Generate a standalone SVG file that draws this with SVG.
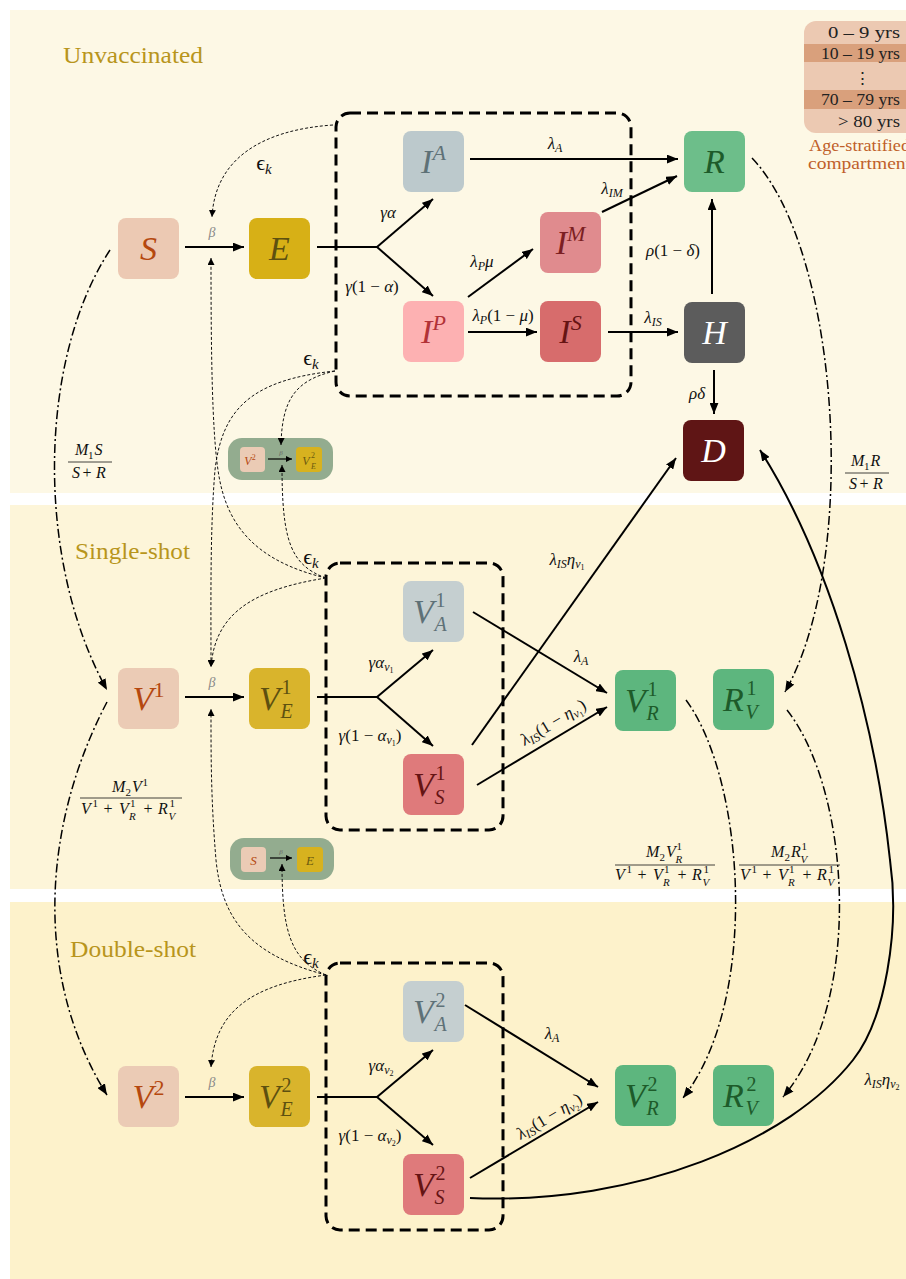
<svg xmlns="http://www.w3.org/2000/svg" width="906" height="1279" viewBox="0 0 906 1279">
<defs>
<style>
.n{rx:8px;ry:8px}
.nl{font-family:"Liberation Serif",serif;font-style:italic;font-size:34px;text-anchor:middle}
.sp{font-size:22px}
.up{font-style:normal}
.ss{font-family:"Liberation Serif",serif;font-size:20px}
.el{font-family:"Liberation Serif",serif;font-style:italic;font-size:17px;fill:#111;text-anchor:middle}
.sb{font-size:12px}
.bt{font-family:"Liberation Serif",serif;font-style:italic;font-size:14px;fill:#8a8a8a;text-anchor:middle}
.eps{font-family:"Liberation Serif","DejaVu Serif",serif;font-size:22px;fill:#111;text-anchor:middle}
.fm{font-family:"Liberation Serif",serif;font-style:italic;font-size:16px;fill:#111}
.fs{font-family:"Liberation Serif",serif;font-style:italic;font-size:11px;fill:#111}
.fu{font-family:"Liberation Serif",serif;font-size:11px;fill:#111}
.fp{font-family:"Liberation Serif",serif;font-size:16px;fill:#111;text-anchor:middle}
.fl{stroke:#111;stroke-width:0.8}
.sec{font-family:"Liberation Serif",serif;font-size:23px;fill:#b8951c}
.lg{font-family:"Liberation Serif",serif;font-size:17px;fill:#222;text-anchor:end}
.cap{font-family:"Liberation Serif",serif;font-size:16px;fill:#c0602a}
.sol{fill:none;stroke:#000;stroke-width:2}
.sa{fill:none;stroke:#000;stroke-width:2;marker-end:url(#ah)}
.da{fill:none;stroke:#000;stroke-width:1.5;stroke-dasharray:9,3,2,3;marker-end:url(#ah)}
.ea{fill:none;stroke:#111;stroke-width:1;stroke-dasharray:3,2;marker-end:url(#as)}
.box{fill:none;stroke:#000;stroke-width:3;stroke-dasharray:11,6}
</style>
<marker id="ah" viewBox="0 0 10 8" refX="10" refY="4" markerWidth="11" markerHeight="9" markerUnits="userSpaceOnUse" orient="auto"><path d="M0,0 L10,4 L0,8 z" fill="#000"/></marker>
<marker id="as" viewBox="0 0 6 6" refX="6" refY="3" markerWidth="7" markerHeight="7" markerUnits="userSpaceOnUse" orient="auto"><path d="M0,0 L6,3 L0,6 z" fill="#000"/></marker>
<marker id="am" viewBox="0 0 6 6" refX="6" refY="3" markerWidth="6" markerHeight="6" markerUnits="userSpaceOnUse" orient="auto"><path d="M0,0 L6,3 L0,6 z" fill="#000"/></marker>
<clipPath id="lc"><rect x="804" y="21" width="130" height="112" rx="12"/></clipPath>
</defs>

<rect x="0" y="0" width="906" height="1279" fill="#fff"/>
<rect x="10" y="10" width="896" height="483" fill="#fdf8e5"/>
<rect x="10" y="505" width="896" height="384" fill="#fdf5d9"/>
<rect x="10" y="902" width="896" height="377" fill="#fdf2cb"/>

<text class="sec" x="63" y="63" textLength="140" lengthAdjust="spacingAndGlyphs">Unvaccinated</text>
<text class="sec" x="75" y="559" textLength="115" lengthAdjust="spacingAndGlyphs">Single-shot</text>
<text class="sec" x="70" y="957" textLength="126" lengthAdjust="spacingAndGlyphs">Double-shot</text>

<g id="legend">
<g clip-path="url(#lc)">
<rect x="804" y="21" width="130" height="112" fill="#ecc9b2"/>
<rect x="804" y="44" width="130" height="18" fill="#d9a07c"/>
<rect x="804" y="90" width="130" height="19" fill="#d9a07c"/>
</g>
<text class="lg" x="900" y="38" textLength="72" lengthAdjust="spacingAndGlyphs">0 –  9 yrs</text>
<text class="lg" x="900" y="59" textLength="79" lengthAdjust="spacingAndGlyphs">10 – 19 yrs</text>
<text class="lg" x="862" y="84" style="text-anchor:middle">⋮</text>
<text class="lg" x="900" y="105" textLength="79" lengthAdjust="spacingAndGlyphs">70 – 79 yrs</text>
<text class="lg" x="900" y="127" textLength="62" lengthAdjust="spacingAndGlyphs">&gt; 80 yrs</text>
<text class="cap" x="809" y="151" textLength="101" lengthAdjust="spacingAndGlyphs">Age-stratified</text>
<text class="cap" x="808" y="169" textLength="103" lengthAdjust="spacingAndGlyphs">compartment</text>
</g>

<!-- dashed groupings -->
<rect class="box" x="336" y="113" width="295" height="283" rx="14"/>
<rect class="box" x="326" y="563" width="177" height="267" rx="14"/>
<rect class="box" x="326" y="963" width="177" height="267" rx="14"/>

<!-- mini diagrams -->
<g id="mini1">
<rect x="228" y="438" width="105" height="42" rx="14" fill="#93ac8f"/>
<rect x="240" y="447" width="25" height="25" rx="4" fill="#ebcbb5"/>
<text x="250" y="465" font-family="Liberation Serif, serif" font-style="italic" font-size="12" fill="#b5480f" text-anchor="middle">V<tspan font-size="8" font-style="normal" dy="-5">2</tspan></text>
<rect x="296" y="447" width="26" height="25" rx="4" fill="#d7b21f"/>
<text x="306" y="465" font-family="Liberation Serif, serif" font-style="italic" font-size="12" fill="#6b5a10" text-anchor="middle">V</text>
<text x="311" y="458" font-family="Liberation Serif, serif" font-size="8" fill="#6b5a10">2</text>
<text x="311" y="469" font-family="Liberation Serif, serif" font-style="italic" font-size="8" fill="#6b5a10">E</text>
<path d="M268,459 H292" fill="none" stroke="#000" stroke-width="1.2" marker-end="url(#am)"/>
<text x="281" y="455" font-family="Liberation Serif, serif" font-style="italic" font-size="7" fill="#666" text-anchor="middle">β</text>
</g>
<g id="mini2">
<rect x="230" y="838" width="104" height="42" rx="14" fill="#93ac8f"/>
<rect x="241" y="847" width="25" height="25" rx="4" fill="#ebcbb5"/>
<text x="253.5" y="865" font-family="Liberation Serif, serif" font-style="italic" font-size="13" fill="#b5480f" text-anchor="middle">S</text>
<rect x="297" y="847" width="26" height="25" rx="4" fill="#d7b21f"/>
<text x="310" y="865" font-family="Liberation Serif, serif" font-style="italic" font-size="13" fill="#6b5a10" text-anchor="middle">E</text>
<path d="M270,858 H292" fill="none" stroke="#000" stroke-width="1.2" marker-end="url(#am)"/>
<text x="281" y="854" font-family="Liberation Serif, serif" font-style="italic" font-size="7" fill="#666" text-anchor="middle">β</text>
</g>

<!-- nodes: unvaccinated -->
<g id="S"><rect class="n" x="118" y="218" width="61" height="61" fill="#ecc9b3"/><text class="nl" x="148.5" y="260" fill="#b5480f">S</text></g>
<g id="E"><rect class="n" x="249" y="218" width="61" height="61" fill="#d7b016"/><text class="nl" x="279.5" y="260" fill="#5d5010">E</text></g>
<g id="IA"><rect class="n" x="403" y="131" width="61" height="61" fill="#bcc9cc"/><text class="nl" x="433.5" y="173" fill="#5e7177">I<tspan class="sp" dy="-13">A</tspan></text></g>
<g id="IM"><rect class="n" x="540" y="212" width="61" height="61" fill="#e08b8e"/><text class="nl" x="570.5" y="254" fill="#7c1f22">I<tspan class="sp" dy="-13">M</tspan></text></g>
<g id="IP"><rect class="n" x="403" y="301" width="61" height="61" fill="#fdb1b2"/><text class="nl" x="433.5" y="343" fill="#b23237">I<tspan class="sp" dy="-13">P</tspan></text></g>
<g id="IS"><rect class="n" x="540" y="301" width="61" height="61" fill="#d76c6c"/><text class="nl" x="570.5" y="343" fill="#661414">I<tspan class="sp" dy="-13">S</tspan></text></g>
<g id="R"><rect class="n" x="684" y="131" width="61" height="61" fill="#6dbe8a"/><text class="nl" x="714.5" y="173" fill="#1d5b2a">R</text></g>
<g id="H"><rect class="n" x="684" y="302" width="61" height="61" fill="#5c5c5c"/><text class="nl" x="714.5" y="344" fill="#fff">H</text></g>
<g id="D"><rect class="n" x="683" y="420" width="61" height="61" fill="#5f1515"/><text class="nl" x="713.5" y="462" fill="#fff">D</text></g>

<!-- nodes: single-shot -->
<g id="V1"><rect class="n" x="118" y="668" width="61" height="61" fill="#ebcbb5"/><text class="nl" x="148.5" y="710" fill="#b5480f">V<tspan class="sp up" dy="-13">1</tspan></text></g>
<g id="V1E"><rect class="n" x="249" y="668" width="61" height="61" fill="#d9b42c"/><text class="nl" x="269.5" y="709.5" fill="#5d5010">V</text><text class="ss" x="281.5" y="693.5" fill="#5d5010">1</text><text class="ss" x="280.5" y="717.5" font-style="italic" fill="#5d5010">E</text></g>
<g id="V1A"><rect class="n" x="403" y="581" width="61" height="61" fill="#c5cfd0"/><text class="nl" x="423.5" y="622.5" fill="#5e7177">V</text><text class="ss" x="435.5" y="606.5" fill="#5e7177">1</text><text class="ss" x="434.5" y="630.5" font-style="italic" fill="#5e7177">A</text></g>
<g id="V1S"><rect class="n" x="403" y="754" width="61" height="61" fill="#df7a7b"/><text class="nl" x="423.5" y="795.5" fill="#661414">V</text><text class="ss" x="435.5" y="779.5" fill="#661414">1</text><text class="ss" x="434.5" y="803.5" font-style="italic" fill="#661414">S</text></g>
<g id="V1R"><rect class="n" x="615" y="670" width="61" height="61" fill="#5db67e"/><text class="nl" x="635.5" y="711.5" fill="#1d5b2a">V</text><text class="ss" x="647.5" y="695.5" fill="#1d5b2a">1</text><text class="ss" x="646.5" y="719.5" font-style="italic" fill="#1d5b2a">R</text></g>
<g id="R1V"><rect class="n" x="713" y="669" width="61" height="61" fill="#5db67e"/><text class="nl" x="733.5" y="710.5" fill="#1d5b2a">R</text><text class="ss" x="746.5" y="694.5" fill="#1d5b2a">1</text><text class="ss" x="745.5" y="718.5" font-style="italic" fill="#1d5b2a">V</text></g>

<!-- nodes: double-shot -->
<g id="V2"><rect class="n" x="118" y="1066" width="61" height="61" fill="#ebcbb5"/><text class="nl" x="148.5" y="1108" fill="#b5480f">V<tspan class="sp up" dy="-13">2</tspan></text></g>
<g id="V2E"><rect class="n" x="249" y="1066" width="61" height="61" fill="#d9b42c"/><text class="nl" x="269.5" y="1107.5" fill="#5d5010">V</text><text class="ss" x="281.5" y="1091.5" fill="#5d5010">2</text><text class="ss" x="280.5" y="1115.5" font-style="italic" fill="#5d5010">E</text></g>
<g id="V2A"><rect class="n" x="403" y="981" width="61" height="61" fill="#c5cfd0"/><text class="nl" x="423.5" y="1022.5" fill="#5e7177">V</text><text class="ss" x="435.5" y="1006.5" fill="#5e7177">2</text><text class="ss" x="434.5" y="1030.5" font-style="italic" fill="#5e7177">A</text></g>
<g id="V2S"><rect class="n" x="403" y="1154" width="61" height="61" fill="#df7a7b"/><text class="nl" x="423.5" y="1195.5" fill="#661414">V</text><text class="ss" x="435.5" y="1179.5" fill="#661414">2</text><text class="ss" x="434.5" y="1203.5" font-style="italic" fill="#661414">S</text></g>
<g id="V2R"><rect class="n" x="615" y="1065" width="61" height="61" fill="#5db67e"/><text class="nl" x="635.5" y="1106.5" fill="#1d5b2a">V</text><text class="ss" x="647.5" y="1090.5" fill="#1d5b2a">2</text><text class="ss" x="646.5" y="1114.5" font-style="italic" fill="#1d5b2a">R</text></g>
<g id="R2V"><rect class="n" x="713" y="1065" width="61" height="61" fill="#5db67e"/><text class="nl" x="733.5" y="1106.5" fill="#1d5b2a">R</text><text class="ss" x="746.5" y="1090.5" fill="#1d5b2a">2</text><text class="ss" x="745.5" y="1114.5" font-style="italic" fill="#1d5b2a">V</text></g>

<g id="connectors">
<!-- unvaccinated solid -->
<path class="sa" d="M185,247 H244"/>
<path class="sol" d="M317,247 H377"/>
<path class="sa" d="M377,247 L433,199"/>
<path class="sa" d="M377,247 L433,296"/>
<path class="sa" d="M470,159 H678"/>
<path class="sa" d="M602,212 L677,176"/>
<path class="sa" d="M468,297 L533,249"/>
<path class="sa" d="M468,332 H537"/>
<path class="sa" d="M608,332 H678"/>
<path class="sa" d="M712,294 V199"/>
<path class="sa" d="M714,370 V414"/>
<!-- single solid -->
<path class="sa" d="M185,697 H244"/>
<path class="sol" d="M317,697 H377"/>
<path class="sa" d="M377,697 L433,650"/>
<path class="sa" d="M377,697 L433,746"/>
<path class="sa" d="M473,612 L607,693"/>
<path class="sa" d="M477,785 L607,707"/>
<path class="sa" d="M472,745 L676,458"/>
<!-- double solid -->
<path class="sa" d="M185,1097 H244"/>
<path class="sol" d="M317,1097 H377"/>
<path class="sa" d="M377,1097 L433,1050"/>
<path class="sa" d="M377,1097 L433,1145"/>
<path class="sa" d="M465,1005 L598,1087"/>
<path class="sa" d="M470,1178 L598,1102"/>
<path class="sa" d="M470,1198 C640,1205 790,1140 853,1060 C885,1020 900,930 890,860 C875,720 830,560 760,450"/>
<!-- dash-dot flows -->
<path class="da" d="M110,250 C38,360 35,560 107,690"/>
<path class="da" d="M107,702 C40,830 35,980 107,1095"/>
<path class="da" d="M752,158 C840,250 860,560 785,692"/>
<path class="da" d="M686,700 C745,780 760,1000 683,1098"/>
<path class="da" d="M787,710 C850,790 865,1000 783,1097"/>
<!-- epsilon infection flows -->
<path class="ea" d="M333,125 C260,130 215,160 212,217"/>
<path class="ea" d="M335,371 C295,380 282,400 281,445"/>
<path class="ea" d="M335,371 C250,380 222,410 215,470 C210,530 211,600 211,667"/>
<path class="ea" d="M326,578 C250,560 225,520 218,470 C212,430 211,350 211,258"/>
<path class="ea" d="M326,578 C290,565 282,540 282,465"/>
<path class="ea" d="M326,578 C250,590 215,615 211,667"/>
<path class="ea" d="M326,975 C290,960 282,930 282,864"/>
<path class="ea" d="M326,975 C250,985 215,1012 211,1067"/>
<path class="ea" d="M326,975 C250,955 222,920 216,860 C211,800 211,760 211,709"/>
</g>

<g id="labels">
<text class="bt" x="212" y="237">β</text>
<text class="bt" x="212" y="687">β</text>
<text class="bt" x="212" y="1087">β</text>
<text class="eps" x="264" y="170">ϵ<tspan font-style="italic" font-size="15" dy="4">k</tspan></text>
<text class="eps" x="311" y="365">ϵ<tspan font-style="italic" font-size="15" dy="4">k</tspan></text>
<text class="eps" x="311" y="564">ϵ<tspan font-style="italic" font-size="15" dy="4">k</tspan></text>
<text class="eps" x="311" y="964">ϵ<tspan font-style="italic" font-size="15" dy="4">k</tspan></text>

<text class="el" x="388" y="218">γα</text>
<text class="el" x="372" y="292">γ<tspan class="up">(1 − </tspan>α<tspan class="up">)</tspan></text>
<text class="el" x="555" y="149">λ<tspan class="sb" dy="3">A</tspan></text>
<text class="el" x="612" y="194">λ<tspan class="sb" dy="3">IM</tspan></text>
<text class="el" x="482" y="267">λ<tspan class="sb" dy="3">P</tspan><tspan dy="-3">μ</tspan></text>
<text class="el" x="503" y="321">λ<tspan class="sb" dy="3">P</tspan><tspan class="up" dy="-3">(1 − </tspan>μ<tspan class="up">)</tspan></text>
<text class="el" x="653" y="323">λ<tspan class="sb" dy="3">IS</tspan></text>
<text class="el" x="673" y="256">ρ<tspan class="up">(1 − </tspan>δ<tspan class="up">)</tspan></text>
<text class="el" x="697" y="399">ρδ</text>

<text class="el" x="381" y="668">γα<tspan class="sb" dy="3">v</tspan><tspan font-size="8" class="up" dy="2">1</tspan></text>
<text class="el" x="370" y="741">γ<tspan class="up">(1 − </tspan>α<tspan class="sb" dy="3">v</tspan><tspan font-size="8" class="up" dy="2">1</tspan><tspan class="up" dy="-5">)</tspan></text>
<text class="el" x="581" y="662">λ<tspan class="sb" dy="3">A</tspan></text>
<text class="el" x="567" y="565">λ<tspan class="sb" dy="3">IS</tspan><tspan dy="-3">η</tspan><tspan class="sb" dy="3">v</tspan><tspan font-size="8" class="up" dy="2">1</tspan></text>
<text class="el" transform="translate(556,727) rotate(-31)">λ<tspan class="sb" dy="3">IS</tspan><tspan class="up" dy="-3">(1 − </tspan>η<tspan class="sb" dy="3">v</tspan><tspan font-size="8" class="up" dy="2">1</tspan><tspan class="up" dy="-5">)</tspan></text>

<text class="el" x="381" y="1071">γα<tspan class="sb" dy="3">v</tspan><tspan font-size="8" class="up" dy="2">2</tspan></text>
<text class="el" x="370" y="1141">γ<tspan class="up">(1 − </tspan>α<tspan class="sb" dy="3">v</tspan><tspan font-size="8" class="up" dy="2">2</tspan><tspan class="up" dy="-5">)</tspan></text>
<text class="el" x="552" y="1039">λ<tspan class="sb" dy="3">A</tspan></text>
<text class="el" transform="translate(552,1121) rotate(-31)">λ<tspan class="sb" dy="3">IS</tspan><tspan class="up" dy="-3">(1 − </tspan>η<tspan class="sb" dy="3">v</tspan><tspan font-size="8" class="up" dy="2">2</tspan><tspan class="up" dy="-5">)</tspan></text>
<text class="el" x="882" y="1085">λ<tspan class="sb" dy="3">IS</tspan><tspan dy="-3">η</tspan><tspan class="sb" dy="3">v</tspan><tspan font-size="8" class="up" dy="2">2</tspan></text>
</g>

<g id="fractions">
<!-- M1 S / (S + R) -->
<text class="fm" x="75" y="455">M</text><text class="fu" x="88" y="459">1</text><text class="fm" x="94.5" y="455">S</text>
<line class="fl" x1="68" y1="462" x2="112" y2="462"/>
<text class="fm" x="72" y="478">S</text><text class="fp" x="87" y="478">+</text><text class="fm" x="96" y="478">R</text>

<!-- M1 R / (S + R) -->
<text class="fm" x="851" y="466">M</text><text class="fu" x="864" y="470">1</text><text class="fm" x="870.5" y="466">R</text>
<line class="fl" x1="845" y1="473" x2="889" y2="473"/>
<text class="fm" x="849" y="489">S</text><text class="fp" x="864" y="489">+</text><text class="fm" x="873" y="489">R</text>

<!-- M2 V1 / (V1 + V1R + R1V) -->
<text class="fm" x="112" y="792">M</text><text class="fu" x="125.5" y="796">2</text><text class="fm" x="132" y="792">V</text><text class="fu" x="142.5" y="786">1</text>
<line class="fl" x1="80" y1="798" x2="182" y2="798"/>
<text class="fm" x="81" y="814">V</text><text class="fu" x="92.5" y="807">1</text>
<text class="fp" x="108" y="814">+</text>
<text class="fm" x="119" y="814">V</text><text class="fu" x="130" y="807">1</text><text class="fs" x="129" y="820">R</text>
<text class="fp" x="148" y="814">+</text>
<text class="fm" x="158" y="814">R</text><text class="fu" x="169.5" y="807">1</text><text class="fs" x="168.5" y="820">V</text>

<!-- M2 V1R / (...) -->
<text class="fm" x="646" y="857">M</text><text class="fu" x="659.5" y="861">2</text><text class="fm" x="666" y="857">V</text><text class="fu" x="676.5" y="849.5">1</text><text class="fs" x="675.5" y="862.5">R</text>
<line class="fl" x1="615" y1="865" x2="715" y2="865"/>
<text class="fm" x="615" y="880">V</text><text class="fu" x="626.5" y="873">1</text>
<text class="fp" x="642" y="880">+</text>
<text class="fm" x="653" y="880">V</text><text class="fu" x="664" y="873">1</text><text class="fs" x="663" y="886">R</text>
<text class="fp" x="682" y="880">+</text>
<text class="fm" x="692" y="880">R</text><text class="fu" x="703.5" y="873">1</text><text class="fs" x="702.5" y="886">V</text>

<!-- M2 R1V / (...) -->
<text class="fm" x="771" y="857">M</text><text class="fu" x="784.5" y="861">2</text><text class="fm" x="791" y="857">R</text><text class="fu" x="801.5" y="849.5">1</text><text class="fs" x="800.5" y="862.5">V</text>
<line class="fl" x1="739" y1="865" x2="840" y2="865"/>
<text class="fm" x="740" y="880">V</text><text class="fu" x="751.5" y="873">1</text>
<text class="fp" x="767" y="880">+</text>
<text class="fm" x="778" y="880">V</text><text class="fu" x="789" y="873">1</text><text class="fs" x="788" y="886">R</text>
<text class="fp" x="807" y="880">+</text>
<text class="fm" x="817" y="880">R</text><text class="fu" x="828.5" y="873">1</text><text class="fs" x="827.5" y="886">V</text>
</g>
</svg>
